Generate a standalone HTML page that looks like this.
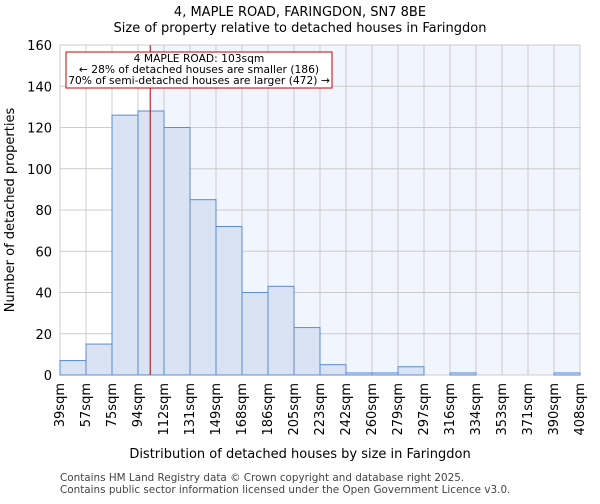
<!DOCTYPE html>
<html><head><meta charset="utf-8"><style>
body{margin:0;background:#fff;font-family:"DejaVu Sans","Liberation Sans",sans-serif}
</style></head><body>
<svg id="c" width="600" height="500" xmlns="http://www.w3.org/2000/svg" font-family="DejaVu Sans, Liberation Sans, sans-serif">
<text x="300" y="16" text-anchor="middle" font-size="13">4, MAPLE ROAD, FARINGDON, SN7 8BE</text>
<text x="300" y="32" text-anchor="middle" font-size="13">Size of property relative to detached houses in Faringdon</text>
<g id="plot"></g>
<text x="300" y="458" text-anchor="middle" font-size="13">Distribution of detached houses by size in Faringdon</text>
<text x="14" y="210" text-anchor="middle" font-size="13" transform="rotate(-90 14 210)">Number of detached properties</text>
<text x="60" y="481" font-size="10.4" fill="#444">Contains HM Land Registry data © Crown copyright and database right 2025.</text>
<text x="60" y="493" font-size="10.4" fill="#444">Contains public sector information licensed under the Open Government Licence v3.0.</text>
</svg>
<script>
const binLabels=["39sqm","57sqm","75sqm","94sqm","112sqm","131sqm","149sqm","168sqm","186sqm","205sqm","223sqm","242sqm","260sqm","279sqm","297sqm","316sqm","334sqm","353sqm","371sqm","390sqm","408sqm"];
const counts=[7,15,126,128,120,85,72,40,43,23,5,1,1,4,0,1,0,0,0,1];
const yTicks=[0,20,40,60,80,100,120,140,160];
const xMin=39,xMax=408,marker=103;
const L=60,R=580,T=45,B=375,yMax=160;
const ns="http://www.w3.org/2000/svg";
const g=document.getElementById('plot');
const n=counts.length;
const xb=i=>L+i*(R-L)/n;
const xv=v=>L+(v-xMin)/(xMax-xMin)*(R-L);
const y=v=>B-v/yMax*(B-T);
function mk(t,a){const e=document.createElementNS(ns,t);for(const k in a)e.setAttribute(k,a[k]);g.appendChild(e);return e;}
let e;
const mx=xv(marker);
e=mk('rect',{x:L,y:T,width:R-L,height:B-T,fill:'#fff'});


e=mk('rect',{x:mx,y:T,width:R-mx,height:B-T,fill:'#f1f5fd'});


for(let i=0;i<=n;i++){e=mk('line',{x1:xb(i),x2:xb(i),y1:T,y2:B,stroke:'#ccc','stroke-width':1});

}
yTicks.forEach(t=>{e=mk('line',{x1:L,x2:R,y1:y(t),y2:y(t),stroke:'#ccc','stroke-width':1});


e=mk('text',{x:L-8,y:y(t)+5,'text-anchor':'end','font-size':13});e.textContent=t;

});
counts.forEach((c,i)=>{if(c<=0)return;e=mk('rect',{x:xb(i),y:y(c),width:xb(i+1)-xb(i),height:B-y(c),fill:'#dae3f3',stroke:'#5b8bd6','stroke-width':1});

});
binLabels.forEach((l,i)=>{const x=xb(i)+4;e=mk('text',{x:x,y:383,'text-anchor':'end','font-size':13,transform:`rotate(-90 ${x} 383)`});e.textContent=l;

});
e=mk('line',{x1:mx,x2:mx,y1:T,y2:B,stroke:'#b00','stroke-width':1});


e=mk('rect',{x:66,y:52,width:266,height:36,fill:'#fff',stroke:'#c00','stroke-width':1});


["4 MAPLE ROAD: 103sqm","← 28% of detached houses are smaller (186)","70% of semi-detached houses are larger (472) →"].forEach((s,i)=>{e=mk('text',{x:199,y:62+i*11,'text-anchor':'middle','font-size':10.7});e.textContent=s;

});
</script>
</body></html>
